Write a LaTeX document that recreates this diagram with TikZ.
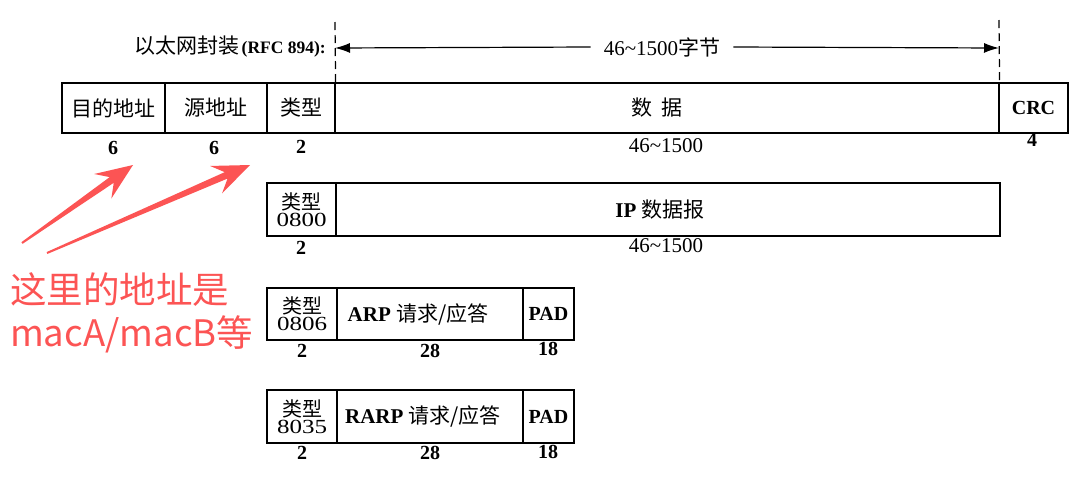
\documentclass[tikz,border=0pt]{standalone}
\usepackage{fontspec}
\setmainfont{Liberation Serif}
\newfontfamily\cjk{Noto Sans CJK SC}
\usetikzlibrary{arrows.meta,calc}
\definecolor{annred}{RGB}{252,84,84}
\newcommand\myredarrow[2]{%
  \fill[annred] ($(#1)!1pt!90:(#2)$) -- ($($(#2)!26pt!(#1)$)!3.5pt!90:(#2)$) --
    ($($(#2)!37pt!(#1)$)!15pt!90:(#2)$) -- (#2) --
    ($($(#2)!37pt!(#1)$)!15pt!-90:(#2)$) -- ($($(#2)!26pt!(#1)$)!3.5pt!-90:(#2)$) --
    ($(#1)!1pt!-90:(#2)$) -- cycle;}
\begin{document}
\begin{tikzpicture}[x=1pt,y=-1pt,
  cell/.style={draw, line width=1.2pt, inner sep=0pt, anchor=center},
  cjkl/.style={font=\cjk\fontsize{21}{23}\selectfont},
  typl/.style={align=center, font=\fontsize{20}{20}\selectfont},
  lat/.style={font=\bfseries\fontsize{20}{22}\selectfont},
  num/.style={font=\bfseries\fontsize{20}{22}\selectfont, inner sep=0pt},
  rng/.style={font=\fontsize{21}{23}\selectfont, inner sep=0pt},
  dash line/.style={line width=1.2pt, dash pattern=on 8pt off 5pt},
  annot/.style={text=annred, font=\cjk\fontsize{36.5}{43}\selectfont, inner sep=0pt, anchor=west}
]
\useasboundingbox (0,0) rectangle (1092,483);

% ---- Row 1: Ethernet frame
\node[cell, minimum width=103pt, minimum height=50pt, cjkl] (dst) at (113.5,108) {目的地址};
\node[cell, minimum width=102pt, minimum height=50pt, cjkl] (src) at (216,108) {源地址};
\node[cell, minimum width=68pt, minimum height=50pt, cjkl] (type) at (301,108) {类型};
\node[cell, minimum width=664pt, minimum height=50pt, cjkl] (data) at (667,108) {\hspace*{-20pt}数\ \ 据};
\node[cell, minimum width=69pt, minimum height=50pt, lat] (crc) at (1033.5,108) {CRC};

\node[num] (n1) at (113,148) {6};
\node[num] (n2) at (214,148) {6};
\node[num] (n3) at (301,147) {2};
\node[rng] (n4) at (666,146) {46\textasciitilde 1500};
\node[num] (n5) at (1032,140) {4};

% ---- header: encapsulation and range
\node[inner sep=0pt, anchor=east] (enc) at (326,47)
  {{\cjk\fontsize{21}{23}\selectfont 以太网封装} {\bfseries\fontsize{17.5}{19}\selectfont (RFC 894):}};
\coordinate (dl) at (335,22);
\coordinate (dr) at (999,20);
\draw[dash line] (dl) -- (type.north east);
\draw[dash line] (dr) -- (data.north east);
\coordinate (al) at (335,48);
\coordinate (ar) at (999,48);
\node[inner ysep=0pt, inner xsep=13pt, font=\fontsize{21}{23}\selectfont] (range) at (662,47)
  {46\textasciitilde 1500{\cjk 字节}};
\draw[line width=1.2pt, -{Latex[length=15pt,width=10pt]}] (range.west) -- (al);
\draw[line width=1.2pt, -{Latex[length=15pt,width=10pt]}] (range.east) -- (ar);

% ---- Row 2: IP
\node[cell, minimum width=69pt, minimum height=53pt, typl] (t2) at (301.5,209.5)
  {{\cjk 类型}\\[-3pt]\scalebox{1.25}[1]{0800}};
\node[cell, minimum width=664pt, minimum height=53pt, font=\fontsize{21}{23}\selectfont] (ip) at (668,209.5)
  {\hspace*{-16pt}{\bfseries IP} {\cjk 数据报}};
\node[num] (m1) at (301,248) {2};
\node[rng] (m2) at (666,246) {46\textasciitilde 1500};

% ---- Row 3: ARP
\node[cell, minimum width=70pt, minimum height=52pt, typl] (t3) at (302,314)
  {{\cjk 类型}\\[-3pt]\scalebox{1.25}[1]{0806}};
\node[cell, minimum width=186pt, minimum height=52pt, font=\fontsize{21}{23}\selectfont] (arp) at (430,314)
  {\hspace*{-24pt}{\bfseries ARP} {\cjk 请求/应答}};
\node[cell, minimum width=51pt, minimum height=52pt, lat] (pad1) at (548.5,314) {PAD};
\node[num] (k1) at (302,351) {2};
\node[num] (k2) at (430,351) {28};
\node[num] (k3) at (548,349) {18};

% ---- Row 4: RARP
\node[cell, minimum width=70pt, minimum height=53pt, typl] (t4) at (302,416.5)
  {{\cjk 类型}\\[-3pt]\scalebox{1.25}[1]{8035}};
\node[cell, minimum width=186pt, minimum height=53pt, font=\fontsize{21}{23}\selectfont] (rarp) at (430,416.5)
  {\hspace*{-14pt}{\bfseries RARP} {\cjk 请求/应答}};
\node[cell, minimum width=51pt, minimum height=53pt, lat] (pad2) at (548.5,416.5) {PAD};
\node[num] (j1) at (302,453) {2};
\node[num] (j2) at (430,453) {28};
\node[num] (j3) at (548,452) {18};

% ---- annotation
\coordinate (ta) at (22,243);
\coordinate (ha) at (133,165);
\coordinate (tb) at (47,253);
\coordinate (hb) at (250,165);
\myredarrow{ta}{ha}
\myredarrow{tb}{hb}
\node[annot] (an1) at (10,290) {这里的地址是};
\node[annot] (an2) at (10,334) {macA/macB等};
\end{tikzpicture}
\end{document}
